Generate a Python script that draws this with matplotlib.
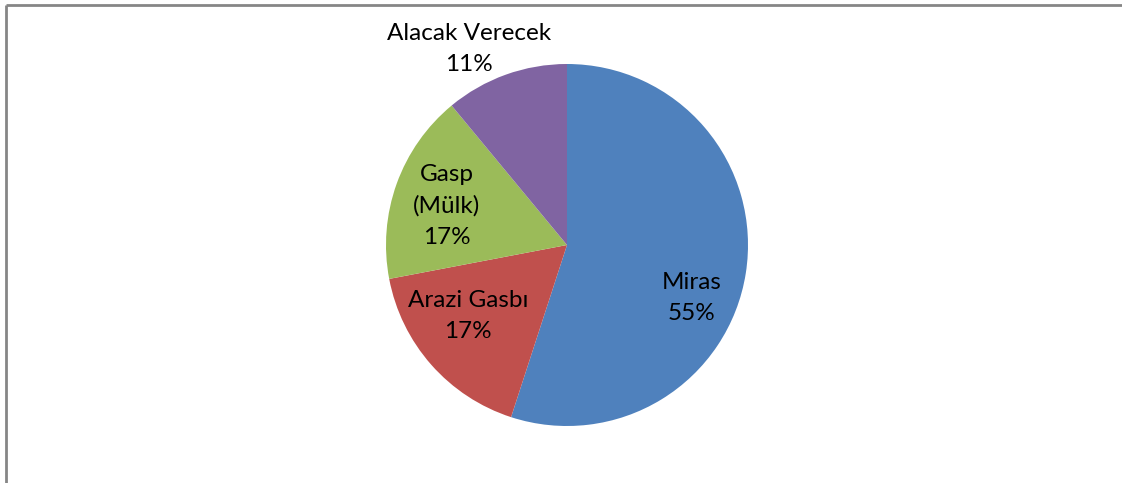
import matplotlib
matplotlib.use("Agg")
import matplotlib.pyplot as plt

# data
categories = ["Miras", "Arazi Gasbı", "Gasp\n(Mülk)", "Alacak Verecek"]
shares = [55, 17, 17, 11]
colors = ["#4F81BD", "#C0504D", "#9BBB59", "#8064A2"]

# label centres in pixel space (x, y from top), placed like Excel's best fit
label_xy = [(692, 298), (468, 316), (447, 206), (469, 49)]

W, H = 1122, 483
CX, CY, R = 567, 245, 181

plt.rcParams["font.family"] = ["Lato", "DejaVu Sans"]

fig = plt.figure(figsize=(W / 100, H / 100), dpi=100)
ax = fig.add_axes([0, 0, 1, 1])

ax.pie(shares, colors=colors, startangle=90, counterclock=False,
       center=(CX, H - CY), radius=R, frame=True,
       wedgeprops=dict(linewidth=0))
ax.set_xlim(0, W)
ax.set_ylim(0, H)
ax.set_aspect("equal")
ax.axis("off")

for name, pct, (x, y) in zip(categories, shares, label_xy):
    ax.text(x, H - y, "%s\n%d%%" % (name, pct), ha="center", va="center",
            fontsize=17.5, color="black", linespacing=1.6)

# chart-area border (only top and left edges visible in the crop)
ax.plot([6.5, W], [H - 4.5, H - 4.5], color="#868686", lw=2, solid_capstyle="butt")
ax.plot([6.5, 6.5], [0, H - 4.5], color="#868686", lw=2, solid_capstyle="butt")

fig.savefig("out.png", dpi=100)
